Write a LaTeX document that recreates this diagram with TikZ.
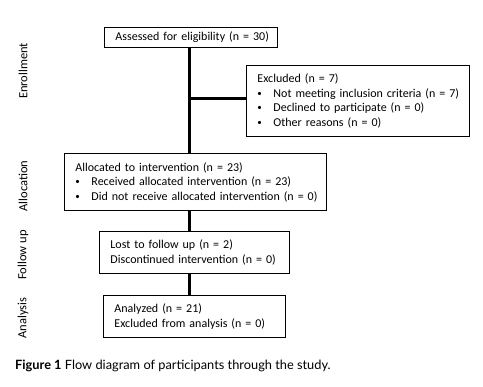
\documentclass[tikz,border=0pt]{standalone}
\usepackage{fontspec}
\setmainfont{Carlito}
\newfontfamily\capfont{Lato}
\begin{document}
\begin{tikzpicture}[x=1pt,y=-1pt,
  box/.style={draw=black,line width=0.9pt,anchor=north west,inner xsep=11pt,inner ysep=2pt,align=left,font=\fontsize{12}{14.5}\selectfont},
  link/.style={line width=3pt,draw=black},
  side/.style={rotate=90,font=\fontsize{12.5}{14}\selectfont}]
\useasboundingbox (0,0) rectangle (483,387);
\newcommand{\bul}{\makebox[16pt][l]{\raisebox{1pt}{\fontsize{9}{9}\selectfont\textbullet}}}
\newcommand{\oneln}[1]{\mbox{#1}}
\node[box,minimum width=173pt,minimum height=20pt,align=center,text width=151pt] (assess) at (104,27) {\oneln{Assessed for eligibility (n = 30)}};
\node[box,minimum width=223pt,minimum height=71pt,text width=201pt] (excl) at (246,65) {\oneln{Excluded (n = 7)}\\\oneln{\bul Not meeting inclusion criteria (n = 7)}\\\oneln{\bul Declined to participate (n = 0)}\\\oneln{\bul Other reasons (n = 0)}};
\node[box,minimum width=262pt,minimum height=57pt,text width=240pt] (alloc) at (64,153) {\oneln{Allocated to intervention (n = 23)}\\\oneln{\bul Received allocated intervention (n = 23)}\\\oneln{\bul Did not receive allocated intervention (n = 0)}};
\node[box,minimum width=190pt,minimum height=42pt,text width=168pt] (follow) at (99,231) {\oneln{Lost to follow up (n = 2)}\\\oneln{Discontinued intervention (n = 0)}};
\node[box,minimum width=182pt,minimum height=42pt,text width=160pt] (anal) at (103,295) {\oneln{Analyzed (n = 21)}\\\oneln{Excluded from analysis (n = 0)}};
\coordinate (spine) at (189.5,0);
\coordinate (br) at (189.5,99);
\draw[link] (assess.south -| spine) -- (alloc.north -| spine);
\draw[link] (br) -- (br -| excl.west);
\draw[link] (alloc.south -| spine) -- (follow.north -| spine);
\draw[link] (follow.south -| spine) -- (anal.north -| spine);
\node[side] (l1) at (23,71) {Enrollment};
\node[side] (l2) at (23,186) {Allocation};
\node[side] (l3) at (23,255) {Follow up};
\node[side] (l4) at (23,318) {Analysis};
\node[anchor=base west,inner sep=0pt,font=\capfont\fontsize{12.8}{14}\selectfont] (cap) at (15,370) {\textbf{Figure 1} Flow diagram of participants through the study.};
\end{tikzpicture}
\end{document}
